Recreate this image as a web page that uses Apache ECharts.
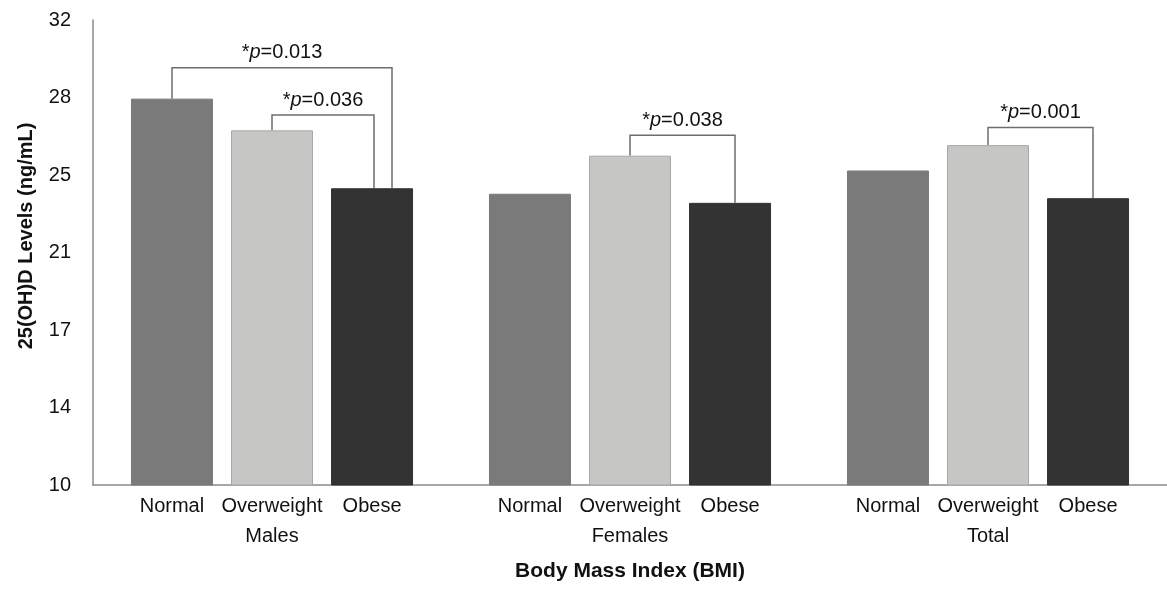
<!DOCTYPE html>
<html>
<head>
<meta charset="utf-8">
<script src="https://cdn.jsdelivr.net/npm/echarts@6/dist/echarts.min.js"></script>
<style>
  html, body { margin: 0; padding: 0; background: #fff; }
  #chart { width: 1167px; height: 589px; }
</style>
</head>
<body>
<div id="chart"></div>
<script>
// groups on the x axis
const groups = ['Males', 'Females', 'Total']
const bmiClasses = ['Normal', 'Overweight', 'Obese']

// 25(OH)D means per group, one array per BMI class
const normalVals = [28.28, 23.78, 24.88]
const overweightVals = [26.78, 25.58, 26.08]
const obeseVals = [24.04, 23.35, 23.57]

// significance brackets: [group, fromSlot, toSlot, level]
const brackets = [
  [0, 0, 2.2, 29.74],
  [0, 1, 2.02, 27.5],
  [1, 1, 2.05, 26.55],
  [2, 1, 2.05, 26.91]
]
const pLabels = ['0.013', '0.036', '0.038', '0.001']

const yTicks = ['10', '14', '17', '21', '25', '28', '32']

const colors = ['#7a7a7a', '#c6c6c4', '#333333']
const font = 'Liberation Sans, Arial, sans-serif'
const allVals = [normalVals, overweightVals, obeseVals]

const chart = echarts.init(document.getElementById('chart'))

const barSeries = bmiClasses.map((name, i) => ({
  name: name,
  type: 'bar',
  data: allVals[i],
  barWidth: 82,
  barGap: '22%',
  itemStyle: {
    color: colors[i],
    borderColor: i === 1 ? '#a8a8a6' : colors[i],
    borderWidth: 1
  },
  label: {
    show: true,
    position: 'bottom',
    distance: 11,
    formatter: name,
    fontFamily: font,
    fontSize: 20,
    color: '#111'
  },
  silent: true
}))

const slotStep = 100

const option = {
  animation: false,
  grid: { left: 93, right: 0, top: 20, bottom: 104, containLabel: false },
  xAxis: {
    type: 'category',
    data: groups,
    axisTick: { show: false },
    axisLine: { lineStyle: { color: '#8a8a8a', width: 1.5 } },
    axisLabel: { margin: 41, fontFamily: font, fontSize: 20, color: '#111' },
    name: 'Body Mass Index (BMI)',
    nameLocation: 'middle',
    nameGap: 76,
    nameTextStyle: { fontFamily: font, fontSize: 21, fontWeight: 'bold', color: '#111' }
  },
  yAxis: {
    type: 'value',
    min: 10,
    max: 32,
    interval: 22 / 6,
    splitLine: { show: false },
    axisTick: { show: false },
    axisLine: { show: true, lineStyle: { color: '#8a8a8a', width: 1.5 } },
    axisLabel: {
      margin: 22,
      fontFamily: font,
      fontSize: 20,
      color: '#111',
      formatter: (v) => yTicks[Math.round((v - 10) / (22 / 6))]
    }
  },
  graphic: [{
    type: 'text',
    x: 26,
    y: 236,
    rotation: Math.PI / 2,
    style: {
      text: '25(OH)D Levels (ng/mL)',
      fontFamily: font,
      fontSize: 20,
      fontWeight: 'bold',
      fill: '#111',
      align: 'center',
      verticalAlign: 'middle'
    }
  }],
  series: barSeries.concat([{
    type: 'custom',
    clip: false,
    silent: true,
    data: brackets,
    renderItem: function (params, api) {
      const g = api.value(0)
      const from = api.value(1)
      const to = api.value(2)
      const level = api.value(3)
      const center = api.coord([g, level])
      const x1 = center[0] + (from - 1) * slotStep
      const x2 = center[0] + (to - 1) * slotStep
      const yTop = center[1]
      const y1 = api.coord([g, allVals[Math.round(from)][g]])[1]
      const y2 = api.coord([g, allVals[Math.min(2, Math.round(to))][g]])[1]
      const lineStyle = { stroke: '#6e6e6e', lineWidth: 1.5, fill: null }
      return {
        type: 'group',
        children: [
          {
            type: 'polyline',
            shape: { points: [[x1, y1], [x1, yTop], [x2, yTop], [x2, y2]] },
            style: lineStyle
          },
          {
            type: 'text',
            x: (x1 + x2) / 2,
            y: yTop - 5,
            style: {
              text: '{a|*}{i|p}{a|=' + pLabels[params.dataIndex] + '}',
              align: 'center',
              verticalAlign: 'bottom',
              rich: {
                a: { fontFamily: font, fontSize: 20, fill: '#111' },
                i: { fontFamily: font, fontSize: 20, fontStyle: 'italic', fill: '#111' }
              }
            }
          }
        ]
      }
    }
  }])
}

chart.setOption(option)
</script>
</body>
</html>
